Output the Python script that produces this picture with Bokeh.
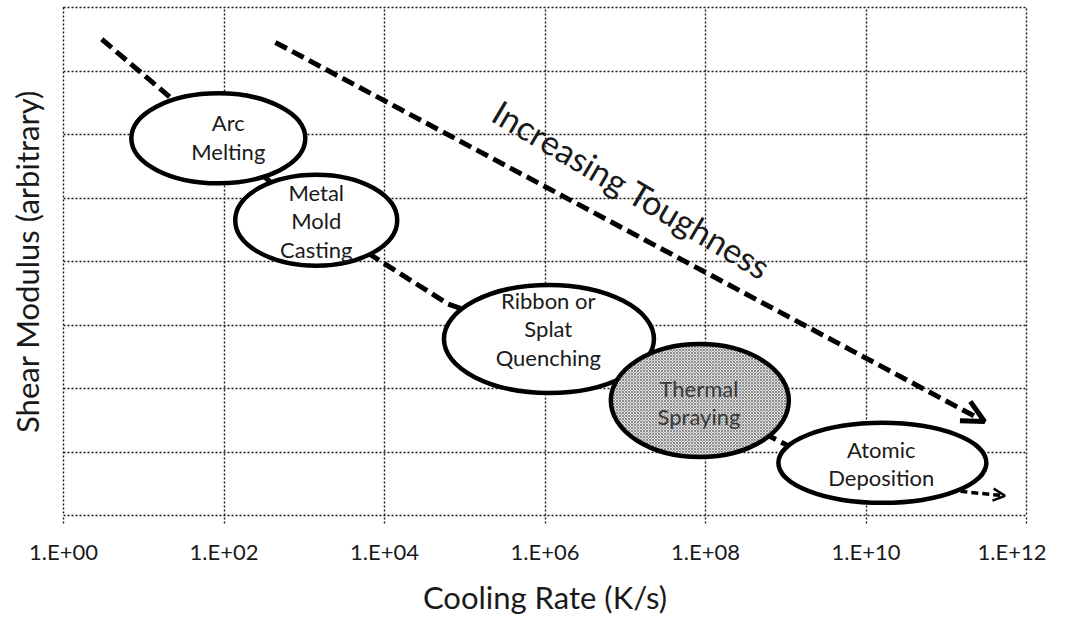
from bokeh.plotting import figure
from bokeh.models import FixedTicker, CustomJSTickFormatter, Arrow, OpenHead, ColumnDataSource
from bokeh.core.properties import value
from bokeh.embed import file_html
from bokeh.resources import INLINE

# ---- data ----
x_ticks = [1e0, 1e2, 1e4, 1e6, 1e8, 1e10, 1e12]
y_grid = [0, 1, 2, 3, 4, 5, 6, 7, 8]

methods = ["Arc\nMelting", "Metal\nMold\nCasting", "Ribbon or\nSplat\nQuenching",
           "Thermal\nSpraying", "Atomic\nDeposition"]
rate_center = [85, 1.41e3, 1.12e6, 8.5e7, 1.6e10]
modulus_center = [5.94, 4.65, 2.78, 1.81, 0.83]
label_rate = [113, 1.41e3, 1.1e6, 8.3e7, 1.55e10]
label_modulus = [5.96, 4.64, 2.94, 1.78, 0.82]

path_rate = [3.0, 85, 1.41e3, 6.2e4, 1.12e6, 8.5e7, 1.07e9, 1.6e10, 1.5e11]
path_modulus = [7.50, 5.94, 4.65, 3.33, 2.78, 1.81, 1.10, 0.83, 0.38]
path_end_rate = 5.4e11
path_end_modulus = 0.31

tough_start = (437, 7.45)
tough_end = (3.0e11, 1.48)
tough_text = "Increasing Toughness"
tough_text_pos = (1.22e7, 5.14)

FONT = "Lato"
INK = "#1a1a1a"

p = figure(x_axis_type="log", x_range=(1, 1e12), y_range=(0, 8),
           frame_width=963, frame_height=508,
           min_border_left=63, min_border_top=7, min_border_right=20, min_border_bottom=10,
           output_backend="svg", toolbar_location=None)
p.background_fill_color = "white"
p.border_fill_color = "white"
p.outline_line_color = INK
p.outline_line_dash = "2 2"
p.outline_line_width = 1.4

# grids
p.xgrid.ticker = FixedTicker(ticks=x_ticks)
p.ygrid.ticker = FixedTicker(ticks=y_grid)
for g in (p.xgrid, p.ygrid):
    g.grid_line_color = INK
    g.grid_line_dash = "2 2"
    g.grid_line_width = 1.4
    g.grid_line_alpha = 1.0

# x axis
xa = p.xaxis[0]
xa.ticker = FixedTicker(ticks=x_ticks)
xa.formatter = CustomJSTickFormatter(code="""
const e = Math.round(Math.log10(tick));
return '1.E+' + (e < 10 ? '0' + e : '' + e);
""")
xa.axis_line_color = None
xa.major_tick_line_color = INK
xa.major_tick_line_dash = "2 2"
xa.major_tick_line_width = 1.4
xa.major_tick_in = 0
xa.major_tick_out = 8
xa.minor_tick_line_color = None
xa.major_label_standoff = 14
xa.major_label_text_font = FONT
xa.major_label_text_font_size = "22px"
xa.major_label_text_color = INK
xa.axis_label = "Cooling Rate (K/s)"
xa.axis_label_text_font = FONT
xa.axis_label_text_font_size = "31px"
xa.axis_label_text_font_style = "normal"
xa.axis_label_text_color = INK
xa.axis_label_standoff = 10

# y axis (no tick labels)
ya = p.yaxis[0]
ya.ticker = FixedTicker(ticks=[])
ya.axis_line_color = None
ya.major_tick_line_color = None
ya.minor_tick_line_color = None
ya.major_tick_out = 0
ya.major_tick_in = 0
ya.major_label_standoff = 0
ya.axis_label = "Shear Modulus (arbitrary)"
ya.axis_label_text_font = FONT
ya.axis_label_text_font_size = "31px"
ya.axis_label_text_font_style = "normal"
ya.axis_label_text_color = INK
ya.axis_label_standoff = 18

# process trajectory (behind ellipses)
p.line(path_rate, path_modulus, line_color="black", line_width=5, line_dash="13 6")
p.add_layout(Arrow(x_start=path_rate[-1], y_start=path_modulus[-1],
                   x_end=path_end_rate, y_end=path_end_modulus,
                   line_color="black", line_width=3.5, line_dash="7 4",
                   end=OpenHead(size=12, line_width=2.5, line_color="black")))

# toughness arrow
p.add_layout(Arrow(x_start=tough_start[0], y_start=tough_start[1],
                   x_end=tough_end[0], y_end=tough_end[1],
                   line_color="black", line_width=5, line_dash="13 6",
                   end=OpenHead(size=22, line_width=5, line_color="black")))
p.text(x=[tough_text_pos[0]], y=[tough_text_pos[1]], text=[tough_text],
       angle=-0.534, text_align="center", text_baseline="middle",
       text_font=value(FONT), text_font_size="34px", text_color=INK)

# ellipses (drawn in order so later ones overlap earlier ones)
widths_px = [174, 162, 210, 178, 208]
heights_px = [90, 91, 108, 113, 80]
for i in range(len(methods)):
    kw = dict(fill_color="white", line_color="black", line_width=4.5)
    if i == 3:
        kw.update(hatch_pattern="x", hatch_scale=3, hatch_weight=0.8,
                  hatch_color="#777777", fill_color="#e2e2e2")
    p.ellipse(x=[rate_center[i]], y=[modulus_center[i]],
              width=widths_px[i], height=heights_px[i],
              width_units="screen", height_units="screen", **kw)

src = ColumnDataSource(dict(x=label_rate, y=label_modulus, t=methods,
                            c=[INK, INK, INK, "#3a3a3a", INK]))
p.text(x="x", y="y", text="t", source=src, text_align="center", text_baseline="middle",
       text_font=value(FONT), text_font_size="22px", text_color="c",
       text_line_height=1.05)

open("out.html", "w").write(file_html(p, INLINE))
